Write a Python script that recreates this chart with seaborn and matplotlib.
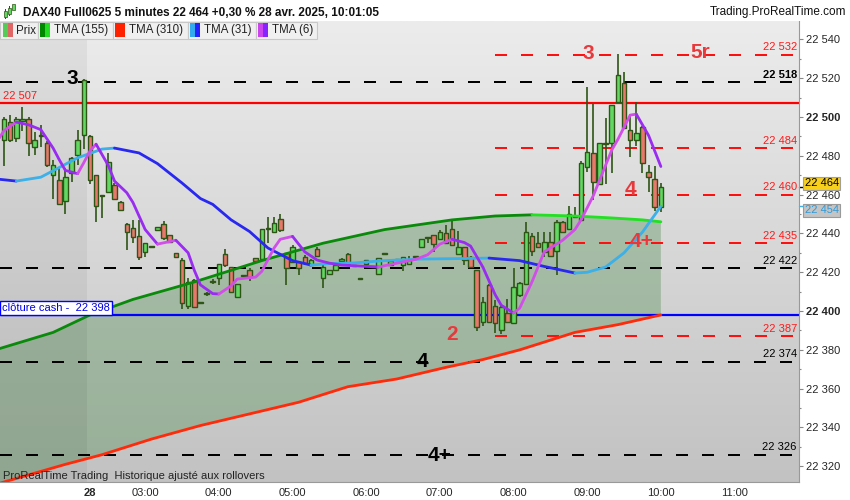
import numpy as np
import matplotlib
matplotlib.use('Agg')
import matplotlib.pyplot as plt
import matplotlib.transforms as mtransforms
from matplotlib.patches import Rectangle
from matplotlib.colors import LinearSegmentedColormap
import seaborn as sns

# ====================== DATA ======================
# 5-minute candles, DAX40 Full0625, bar 0 .. bar 107 (10:00)
opens = [22488, 22497.5, 22489, 22498, 22499, 22484.5, 22490, 22486.5, 22470, 22467.5,
         22456.5, 22471, 22480.5, 22491, 22490, 22470, 22460, 22461.5, 22465, 22456,
         22445, 22443, 22438.7, 22430.6, 22433, 22441.8, 22445, 22439, 22429.7, 22426.3,
         22402.6, 22416, 22404.5, 22409, 22415, 22416.8, 22429.4, 22422.5, 22407, 22418,
         22421.1, 22427.1, 22426.6, 22442.1, 22440.9, 22447.3, 22429.7, 22425.4, 22425.4, 22428,
         22423.7, 22431.8, 22416.8, 22419.1, 22421.1, 22425.9, 22429.4, 22423, 22416.3, 22426.3,
         22422.5, 22418.9, 22429.4, 22423.7, 22426.5, 22423.7, 22424.2, 22427.7, 22432.8, 22437.5,
         22439, 22436.9, 22440, 22442.1, 22429.4, 22432.8, 22428, 22421.1, 22394.5, 22413.4,
         22402.7, 22390.2, 22398.8, 22393.6, 22408.2, 22413.9, 22438.8, 22434.9, 22430.6, 22435.7,
         22431.1, 22446, 22442.1, 22448.3, 22446.9, 22474.1, 22481.3, 22465.5, 22486.1, 22486.8,
         22507.9, 22517.7, 22493.3, 22488.1, 22495, 22471.8, 22467.9, 22453.8]
highs = [22500, 22501, 22500, 22505, 22500, 22492.5, 22496, 22487.5, 22478, 22473.5,
         22473.5, 22479.5, 22493.5, 22519.5, 22491, 22470, 22460, 22481.5, 22466, 22456.5,
         22445.5, 22447, 22447, 22435, 22433.5, 22443.3, 22446.6, 22439.3, 22429.9, 22427.1,
         22416.8, 22416.3, 22404.6, 22410, 22416.3, 22424.1, 22432.1, 22422.9, 22414.2, 22418.5,
         22422, 22427.3, 22442.4, 22448.6, 22448.6, 22450, 22430, 22434, 22425.7, 22428.9,
         22426.6, 22432.8, 22424.6, 22421.4, 22424, 22427.2, 22429.7, 22423.5, 22416.5, 22426.5,
         22423, 22427.1, 22429.6, 22426, 22427, 22428, 22428.4, 22427.9, 22437, 22437.7,
         22439.2, 22441.8, 22444.3, 22447.3, 22441.4, 22433, 22428.2, 22421.3, 22407, 22414,
         22405.7, 22402.4, 22406, 22422, 22414.8, 22446, 22440, 22440.9, 22440.9, 22440.9,
         22446.9, 22446.2, 22454.1, 22453.8, 22477.5, 22515.3, 22506.7, 22486.6, 22499.3, 22506.4,
         22532.5, 22523.4, 22501.5, 22507.9, 22495.2, 22475.3, 22474.7, 22466.2]
lows = [22475, 22487, 22487, 22493, 22480, 22480.5, 22484.5, 22474.5, 22458, 22454.5,
        22450, 22466.5, 22475.5, 22483.5, 22465.5, 22446, 22448, 22461, 22457, 22452,
        22431.5, 22435, 22426.3, 22428, 22432.8, 22441.5, 22436.6, 22434.9, 22427.8, 22400.9,
        22400.9, 22401.5, 22404.1, 22408, 22413.9, 22413.4, 22422.9, 22409.7, 22406.7, 22417.5,
        22415.6, 22425.7, 22426.3, 22435.2, 22440.7, 22440.9, 22413.4, 22425.2, 22418.6, 22423.7,
        22423.4, 22428.2, 22411.7, 22418.9, 22420.8, 22425.7, 22423.7, 22422.5, 22416.1, 22424,
        22422, 22418.9, 22429.2, 22423.5, 22426, 22420.8, 22424, 22427.5, 22432.6, 22434.9,
        22430.6, 22436.7, 22434.7, 22433.8, 22429.2, 22423.7, 22422.3, 22389.9, 22392.3, 22394.3,
        22388.5, 22388.1, 22394, 22393.4, 22407.4, 22413.7, 22428.4, 22432.6, 22428, 22428.2,
        22418.6, 22440.7, 22441.8, 22448, 22446.7, 22471.8, 22457.2, 22465.3, 22465.5, 22471,
        22507.7, 22494, 22479.2, 22485.1, 22471, 22461.5, 22451.7, 22451.2]
closes = [22499, 22488, 22499, 22499, 22486.5, 22488, 22490.5, 22475.5, 22475.5, 22455,
          22469, 22479, 22488, 22519, 22467.5, 22454, 22459.5, 22477, 22458, 22452,
          22441, 22438, 22428, 22435, 22433.2, 22443.1, 22437.5, 22435.7, 22428, 22404,
          22415.1, 22401.9, 22404.3, 22409.5, 22415.2, 22424.1, 22423.7, 22410, 22413.9, 22418.2,
          22417.7, 22425.9, 22442.1, 22442.4, 22445.2, 22441.8, 22422, 22432.8, 22422, 22424.6,
          22426.3, 22428.4, 22422.5, 22421.1, 22423.7, 22427, 22424.2, 22423.2, 22416.3, 22424.2,
          22422.8, 22427.1, 22429.4, 22425.9, 22426.8, 22428, 22426.3, 22427.7, 22436.9, 22437.5,
          22434.5, 22440.9, 22434.9, 22434, 22432.8, 22426.3, 22422.5, 22391.9, 22404.8, 22394.5,
          22393.6, 22402.2, 22394.5, 22412.5, 22414.6, 22440.9, 22431.1, 22432.8, 22435.7, 22428.4,
          22446, 22440.9, 22450, 22449, 22476.1, 22482.1, 22466.7, 22486.4, 22486.8, 22506.2,
          22521.6, 22494.2, 22488.1, 22491.9, 22476.1, 22468.9, 22453.8, 22464.1]

# indicator values, sampled at bar indices
tma155_idx = [-1, 8, 14, 21, 31, 42, 52, 62, 73, 80, 86, 93, 99, 104, 107]
tma155_val = [22380.4, 22389, 22398, 22406, 22415, 22426, 22435, 22442, 22447, 22449,
              22449.6, 22449, 22448, 22447, 22446]
tma310_idx = [-1, 10, 16, 24, 32, 40, 48, 56, 64, 72, 78, 84, 93, 100, 107]
tma310_val = [22311, 22321, 22326, 22334, 22341, 22347, 22353, 22361, 22365, 22371,
              22375, 22380, 22389, 22393, 22398]
tma31_idx = [-1, 2, 6, 9, 12, 16, 18, 22, 25, 29, 32, 34, 37, 40, 43, 47, 50, 53, 57, 62,
             68, 73, 79, 84, 88, 93, 95, 98, 101, 104, 107]
tma31_val = [22468, 22467, 22469, 22474, 22479, 22483.5, 22484, 22481.5, 22476, 22466,
             22458, 22455, 22447, 22441, 22432.5, 22426, 22423.7, 22424.5, 22424.8, 22426,
             22426.8, 22427, 22427.3, 22426, 22423, 22419.6, 22420, 22422.7, 22430, 22440.7, 22454]
tma6_idx = [-1, 0, 2, 4, 6, 8, 9, 10, 12, 13, 14, 15, 17, 18, 20, 21, 22, 23, 25, 28,
            30, 31, 32, 34, 35, 37, 38, 41, 42, 44, 45, 47, 49, 51, 53, 55, 58, 61, 64, 67,
            69, 71, 73, 75, 76, 78, 80, 81, 83, 84, 86, 88, 91, 93, 94, 96, 99, 100, 102, 103,
            105, 107]
tma6_val = [22488, 22493, 22497.4, 22496, 22493.5, 22484, 22478, 22472.5, 22470.8, 22476.5,
            22482.5, 22486, 22475, 22467, 22461, 22456, 22449, 22442, 22434.5, 22436.5,
            22430, 22421, 22413.5, 22409, 22408.8, 22413, 22416.5, 22417.5, 22420.5, 22432.5,
            22437, 22438.5, 22430.5, 22426.3, 22424.7, 22423.7, 22423.2, 22422.7, 22424.7, 22426.6,
            22429, 22434.5, 22437, 22435.3, 22433.5, 22422.7, 22408.5, 22403, 22399, 22401.5,
            22415, 22430.5, 22436.5, 22442, 22447, 22459.5, 22483, 22488.5, 22501, 22501.5,
            22490.5, 22474.5]

black_levels = [22518, 22422, 22374, 22326]
red_levels = [22532, 22484, 22460, 22435, 22387]
resistance = 22507
cash_close = 22398
last_price = 22464
tma31_last = 22454

tick_pos = [2, 14, 23, 35, 47, 59, 71, 83, 95, 107, 119]
tick_labels = ['', '28', '03:00', '04:00', '05:00', '06:00', '07:00', '08:00', '09:00', '10:00', '11:00']
price_ticks = list(range(22320, 22541, 20))

wave_texts = ['3', '4', '4+', '3', '5r', '4', '4+', '2']
wave_x = [11.1, 68.1, 71.0, 95.1, 113.4, 102.1, 103.9, 73.0]
wave_y = [22520, 22374, 22325.5, 22532.7, 22533.5, 22462.6, 22435.6, 22387.9]
wave_red = [False, False, False, True, True, True, True, True]

# ====================== STYLE ======================
sns.set_style('white')
plt.rcParams['font.family'] = ['Liberation Sans', 'DejaVu Sans']
plt.rcParams['font.size'] = 8

GREEN_BODY = '#62d862'
RED_BODY = '#e8776c'
EDGE = '#2e5416'
RED_TXT = '#e8383c'

W, H = 850, 500
fig = plt.figure(figsize=(8.5, 5), dpi=100)
ax = fig.add_axes([0, 18 / H, 799 / W, 461 / H])
XMIN, XMAX = -0.65, 129.5
YMIN, YMAX = 22311.9, 22549.5

# background gradient + previous day shading
grad_cmap = LinearSegmentedColormap.from_list('bg', ['#ececec', '#c2c2c2'])
ax.imshow(np.linspace(0, 1, 256).reshape(-1, 1), cmap=grad_cmap, aspect='auto',
          extent=[XMIN, XMAX, YMIN, YMAX], origin='upper', zorder=0)
ax.axvspan(XMIN, 13.5, color='black', alpha=0.05, lw=0, zorder=1.5)

# cloud between TMA155 and TMA310
poly_x = list(tma155_idx) + list(reversed(tma310_idx))
poly_y = list(tma155_val) + list(reversed(tma310_val))
ax.fill(poly_x, poly_y, color='#4a8a4a', alpha=0.35, lw=0, zorder=1)

# horizontal levels
lw_px = 1.44
for lv in black_levels:
    ax.axhline(lv, color='black', lw=lw_px, dashes=(6, 7), zorder=2)
    ax.text(129.15, lv + 1.3, f'{lv:,}'.replace(',', ' '), ha='right', va='bottom',
            color='black', fontsize=8, fontweight='bold' if lv == 22518 else 'normal', zorder=6)
for lv in red_levels:
    ax.plot([80, XMAX], [lv, lv], color='#ff1010', lw=lw_px, dashes=(6, 7), zorder=2)
    ax.text(129.15, lv + 1.3, f'{lv:,}'.replace(',', ' '), ha='right', va='bottom',
            color='#ff1a1a', fontsize=8, zorder=6)
ax.axhline(resistance, color='#ff0000', lw=1.6, zorder=2)
ax.text(-0.2, resistance + 1.3, f'{resistance:,}'.replace(',', ' '), ha='left', va='bottom',
        color='#ff1a1a', fontsize=8, zorder=6)
ax.axhline(cash_close, color='#0000ff', lw=1.6, zorder=2)
ax.text(-0.3, cash_close + 1.0, 'clôture cash -  ' + f'{cash_close:,}'.replace(',', ' '),
        ha='left', va='bottom', color='#0000ee', fontsize=8, zorder=7,
        bbox=dict(boxstyle='square,pad=0.18', fc='white', ec='#0000ff', lw=1))

# candles
x = np.arange(len(opens))
o, h, l, c = (np.array(a, float) for a in (opens, highs, lows, closes))
up = c >= o
ax.vlines(x, l, h, color=EDGE, lw=1.2, zorder=3)
ax.bar(x, np.maximum(np.abs(c - o), 0.5), bottom=np.minimum(o, c), width=0.74,
       color=np.where(up, GREEN_BODY, RED_BODY), edgecolor=EDGE, linewidth=1.0, zorder=4)


def two_tone(idx, vals, up_col, down_col, z=5):
    idx = np.asarray(idx, float)
    vals = np.asarray(vals, float)
    d = np.sign(np.diff(vals))
    d[d == 0] = 1
    start = 0
    for k in range(1, len(d) + 1):
        if k == len(d) or d[k] != d[start]:
            seg = slice(start, k + 1)
            sns.lineplot(x=idx[seg], y=vals[seg], color=up_col if d[start] > 0 else down_col,
                         lw=2, ax=ax, zorder=z, estimator=None, sort=False,
                         solid_capstyle='round', solid_joinstyle='round')
            start = k


two_tone(tma310_idx, tma310_val, '#ff2a0a', '#ff2a0a')
two_tone(tma155_idx, tma155_val, '#0a8a0a', '#22e022')
two_tone(tma31_idx, tma31_val, '#3cb0e8', '#2828f0')
two_tone(tma6_idx, tma6_val, '#d24ee8', '#9a2cf2')

# wave labels
for t, wx, wy, r in zip(wave_texts, wave_x, wave_y, wave_red):
    ax.text(wx, wy, t, ha='center', va='center', fontsize=15, fontweight='bold',
            color=RED_TXT if r else 'black', zorder=8)

# axes
ax.set_xlim(XMIN, XMAX)
ax.set_ylim(YMIN, YMAX)
ax.yaxis.tick_right()
ax.set_yticks(price_ticks)
ax.set_yticklabels([f'{p:,}'.replace(',', ' ') for p in price_ticks])
for lab, p in zip(ax.get_yticklabels(), price_ticks):
    if p % 100 == 0:
        lab.set_fontweight('bold')
ax.set_yticks(list(range(22320, 22550, 10)), minor=True)
ax.set_xticks(tick_pos)
ax.set_xticklabels(tick_labels)
ax.get_xticklabels()[1].set_fontweight('bold')
ax.tick_params(axis='y', which='major', direction='out', length=3, width=0.8,
               color='#888888', pad=2, labelsize=8, right=True, left=False)
ax.tick_params(axis='y', which='minor', direction='out', length=1.6, width=0.8,
               color='#888888', right=True, left=False)
ax.tick_params(axis='x', direction='out', length=2.5, width=0.8, color='#888888',
               pad=2, labelsize=8)
ax.set_xlabel('')
ax.set_ylabel('')
for side in ['left', 'top']:
    ax.spines[side].set_visible(False)
for side in ['right', 'bottom']:
    ax.spines[side].set_color('#999999')
    ax.spines[side].set_linewidth(0.8)

# last price tags on the price scale
blend = mtransforms.blended_transform_factory(ax.transAxes, ax.transData)
ax.plot([1.0, 1.006], [last_price, last_price], transform=blend, color='black', lw=1, clip_on=False)
ax.text(1.007, last_price + 1.8, f'{last_price:,}'.replace(',', ' '), transform=blend,
        ha='left', va='center', fontsize=8, color='black', clip_on=False, zorder=10,
        bbox=dict(boxstyle='square,pad=0.15', fc='#f7cf1d', ec='#a0a0a0', lw=0.8))
ax.plot([1.0, 1.006], [tma31_last, tma31_last], transform=blend, color='#3cb0e8', lw=1, clip_on=False)
ax.text(1.007, tma31_last - 2, f'{tma31_last:,}'.replace(',', ' '), transform=blend,
        ha='left', va='center', fontsize=8, color='#2e9ad8', clip_on=False, zorder=10,
        bbox=dict(boxstyle='square,pad=0.15', fc='#c4c4c4', ec='#9a9a9a', lw=0.8))


# ====================== HEADER & LEGEND BAR ======================
def fig_rect(x0, y0, x1, y1, **kw):
    fig.add_artist(Rectangle((x0 / W, 1 - y1 / H), (x1 - x0) / W, (y1 - y0) / H,
                             transform=fig.transFigure, **kw))


fig_rect(0, 0, W, 21, fc='white', ec='none', zorder=1)
fig_rect(0, 20.5, W, 21, fc='#b0b0b0', ec='none', zorder=1)
# little candle icon
for cx, cy0, cy1 in [(5, 11, 17), (9, 8, 14), (13, 4, 10)]:
    fig_rect(cx - 0.5, cy0 - 2, cx + 0.5, cy1 + 2, fc='#2e5416', ec='none', zorder=2)
    fig_rect(cx - 1.5, cy0, cx + 1.5, cy1, fc='#62d862', ec='#2e5416', lw=0.5, zorder=3)
fig.text(23 / W, 1 - 12.5 / H, 'DAX40 Full0625 5 minutes 22 464 +0,30 % 28 avr. 2025, 10:01:05',
         ha='left', va='center', fontsize=8.5, fontweight='bold', color='#111111')
fig.text(846 / W, 1 - 12.5 / H, 'Trading.ProRealTime.com', ha='right', va='center',
         fontsize=8.5, color='#111111')

legend_names = ['Prix', 'TMA (155)', 'TMA (310)', 'TMA (31)', 'TMA (6)']
legend_cols = [('#55cc55', '#e06666'), ('#008800', '#22dd22'), ('#ff2200', '#ff2200'),
               ('#33aaee', '#2222ff'), ('#cc44ee', '#8822ff')]
legend_edges = [0, 37.7, 112.7, 187.7, 255.7, 316.7]
for k, name in enumerate(legend_names):
    bx0, bx1 = legend_edges[k], legend_edges[k + 1]
    fig_rect(bx0, 22, bx1, 39, fc='#f0f0f0', ec='#c8c8c8', lw=0.8, zorder=1)
    sx = bx0 + 2.5
    fig_rect(sx, 23.5, sx + 5, 37, fc=legend_cols[k][0], ec='none', zorder=2)
    fig_rect(sx + 5, 23.5, sx + 10, 37, fc=legend_cols[k][1], ec='none', zorder=2)
    fig.text((sx + 13.5) / W, 1 - 30.5 / H, name, ha='left', va='center', fontsize=8.3,
             color='#222222')

fig.text(3 / W, 1 - 476 / H, 'ProRealTime Trading  Historique ajusté aux rollovers',
         ha='left', va='center', fontsize=8, color='#222222')

fig.savefig('out.png', dpi=100, facecolor='white')
